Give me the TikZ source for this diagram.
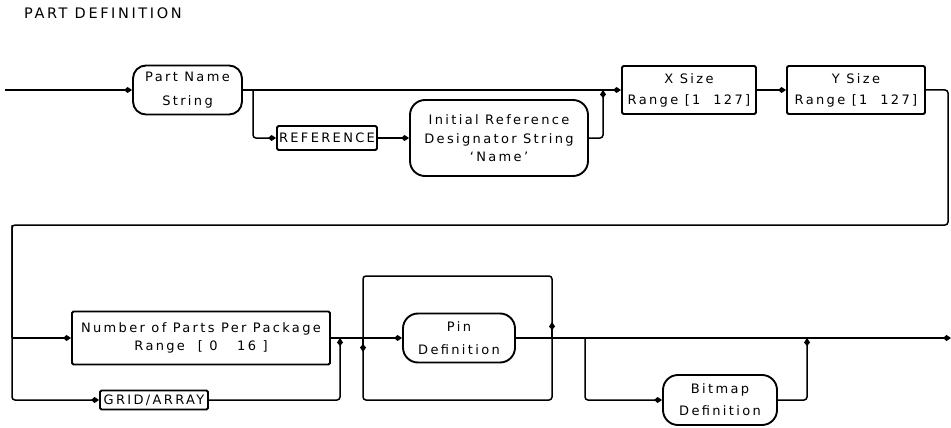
\documentclass[tikz,border=0pt]{standalone}
\usepackage{fontspec}
\setmainfont{DejaVu Sans}[LetterSpace=18]
\usetikzlibrary{arrows.meta}
\begin{document}
\begin{tikzpicture}[x=1pt,y=-1pt,
  line width=1.5pt,
  arr/.style={-{Kite[length=8pt,width=6pt,inset=3.5pt]}},
  flow/.style={rounded corners=3pt},
  txt/.style={font=\fontsize{13}{15}\selectfont, align=center},
  rbox/.style={draw, line width=1.9pt, rounded corners=13pt, inner sep=0pt, txt},
  sbox/.style={draw, line width=1.9pt, rounded corners=1.5pt, inner sep=0pt, txt}]
\useasboundingbox (0,0) rectangle (951,428);
\node[anchor=west, font=\fontsize{14.5}{16}\selectfont] (title) at (20,13) {PART DEFINITION};
% top row
\node[rbox, minimum width=109pt, minimum height=49pt] (part) at (187.5,90) {Part Name\\[9pt]String};
\node[sbox, minimum width=100pt, minimum height=24pt] (ref) at (327,138) {REFERENCE};
\node[rbox, rounded corners=15pt, minimum width=178pt, minimum height=76pt] (init) at (499,138) {Initial Reference\\[4pt]Designator String\\[3pt]`Name'};
\node[sbox, minimum width=134pt, minimum height=48pt] (xs) at (689,90) {X Size\\[6pt]Range [1 \ 127]};
\node[sbox, minimum width=138pt, minimum height=48pt] (ys) at (856,90) {Y Size\\[6pt]Range [1 \ 127]};
% bottom row
\node[sbox, minimum width=258pt, minimum height=53pt] (num) at (201,338) {Number of Parts Per Package\\[3pt]Range \ [ 0 \ \ 16 ]};
\node[sbox, minimum width=108pt, minimum height=19pt] (grid) at (154,400) {GRID/ARRAY};
\node[rbox, rounded corners=15pt, minimum width=112pt, minimum height=49pt] (pin) at (459,338) {Pin\\[8pt]Definition};
\node[rbox, rounded corners=15pt, minimum width=114pt, minimum height=50pt] (bmp) at (720,400) {Bitmap\\[7pt]Definition};
% coordinates
\coordinate (start) at (5,90);
\coordinate (b1) at (253,90);
\coordinate (j1) at (603,90);
\coordinate (r2) at (948,225);
\coordinate (l1) at (12,225);
\coordinate (l2) at (12,338);
\coordinate (j2) at (340,338);
\coordinate (fl) at (363,338);
\coordinate (fr) at (552,338);
\coordinate (b2) at (585,338);
\coordinate (j3) at (807,338);
\coordinate (fin) at (951,338);
\coordinate (ftl) at (363,276);
\coordinate (fbr) at (552,400);
\coordinate (fla) at (363,352);
\coordinate (fra) at (552,322);
% top connectors
\draw[arr] (start) -- (part.west);
\draw[arr] (part.east) -- (xs.west);
\draw[arr, flow] (b1) |- (ref.west);
\draw[arr] (ref.east) -- (init.west);
\draw[arr, flow] (init.east) -| (j1);
\draw[arr] (xs.east) -- (ys.west);
\draw[flow] (ys.east) -| (r2) -- (l1) -- (l2);
% bottom connectors
\draw[arr, flow] (l1) |- (grid.west);
\draw[arr] (l2) -- (num.west);
\draw[arr, flow] (grid.east) -| (j2);
\draw[arr] (num.east) -- (pin.west);
\draw[arr] (pin.east) -- (fin);
\draw[flow] (ftl) rectangle (fbr);
\draw[arr] (fl) -- (fla);
\draw[arr] (fr) -- (fra);
\draw[arr, flow] (b2) |- (bmp.west);
\draw[arr, flow] (bmp.east) -| (j3);
\end{tikzpicture}
\end{document}
